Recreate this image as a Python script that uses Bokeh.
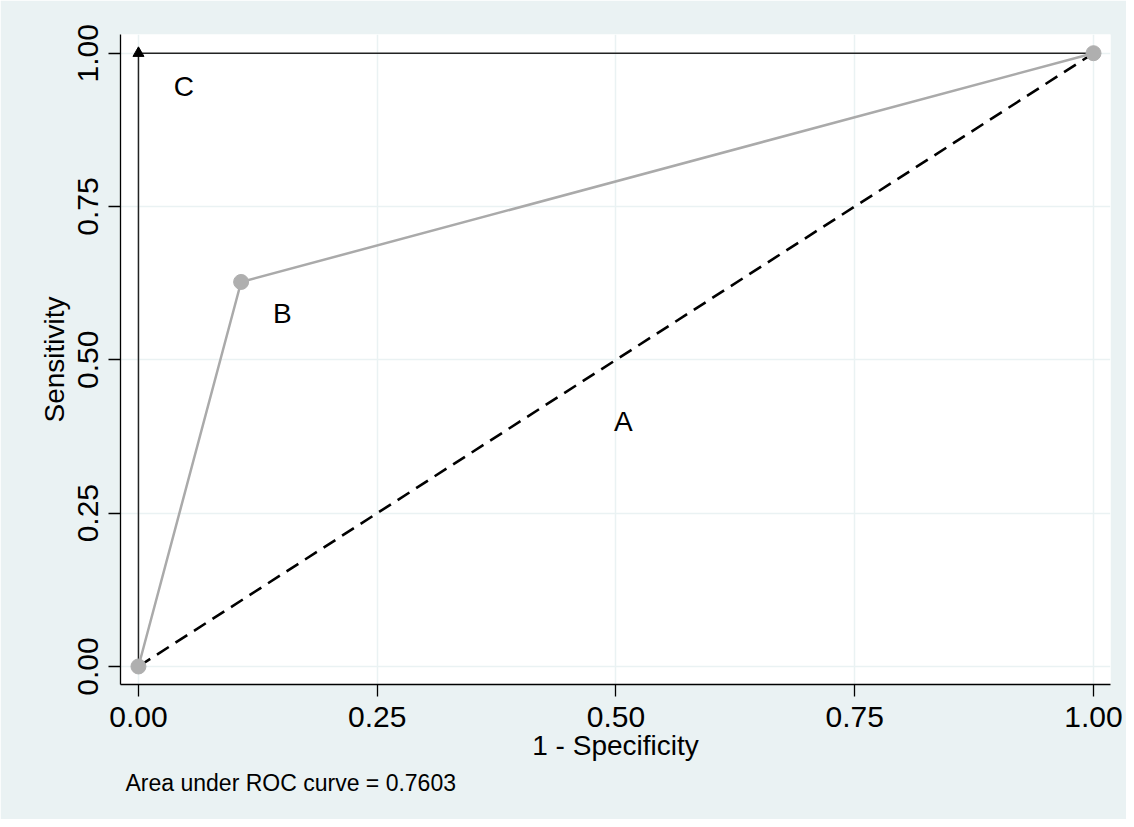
from bokeh.plotting import figure
from bokeh.models import Range1d, FixedTicker, Title
from bokeh.core.properties import value
from bokeh.embed import file_html
from bokeh.resources import INLINE

# Data
ref_x = [0.0, 1.0]          # A: reference (chance) line
ref_y = [0.0, 1.0]
b_x = [0.0, 0.1075, 1.0]    # B: ROC curve of the test
b_y = [0.0, 0.627, 1.0]
c_x = [0.0, 0.0, 1.0]       # C: perfect classifier
c_y = [0.0, 1.0, 1.0]
lab_text = ["A", "B", "C"]
lab_x = [0.498, 0.141, 0.037]
lab_y = [0.399, 0.575, 0.945]
ticks = [0.0, 0.25, 0.5, 0.75, 1.0]
tick_labels = ["0.00", "0.25", "0.50", "0.75", "1.00"]
note = "Area under ROC curve = 0.7603"

FONT = "Liberation Sans"
BG = "#EAF2F3"

p = figure(width=1126, height=819, output_backend="svg", toolbar_location=None,
           x_range=Range1d(-0.0188, 1.0178), y_range=Range1d(-0.0294, 1.0305),
           min_border_left=120, min_border_right=16, min_border_top=34,
           min_border_bottom=135)
p.background_fill_color = "white"
p.border_fill_color = BG
p.outline_line_color = None

for ax in (p.xaxis[0], p.yaxis[0]):
    ax.ticker = FixedTicker(ticks=ticks)
    ax.major_label_overrides = {t: s for t, s in zip(ticks, tick_labels)}
    ax.major_tick_out = 12
    ax.major_tick_in = 0
    ax.minor_tick_line_color = None
    ax.axis_line_color = "black"
    ax.axis_line_width = 1.3
    ax.major_tick_line_color = "black"
    ax.major_tick_line_width = 1.3
    ax.major_label_text_font = FONT
    ax.major_label_text_font_size = "30px"
    ax.major_label_text_color = "black"
    ax.axis_label_text_font = FONT
    ax.axis_label_text_font_size = "28px"
    ax.axis_label_text_font_style = "normal"
    ax.axis_label_text_color = "black"
    ax.major_label_standoff = 10

p.xaxis.axis_label = "1 - Specificity"
p.yaxis.axis_label = "Sensitivity"
p.xaxis.axis_label_standoff = 0
p.yaxis.axis_label_standoff = 6
p.yaxis.major_label_orientation = "vertical"

p.xgrid.ticker = FixedTicker(ticks=ticks)
p.ygrid.ticker = FixedTicker(ticks=ticks)
p.grid.grid_line_color = BG
p.grid.grid_line_width = 1.5

# C line
p.line(c_x, c_y, line_color="#222222", line_width=1.5)
p.scatter(c_x, c_y, marker="triangle", size=11, fill_color="black", line_color="black")
# A reference line
p.line(ref_x, ref_y, line_color="black", line_width=2.6, line_dash="14 8")
# B curve
p.line(b_x, b_y, line_color="#AAAAAA", line_width=2.5)
p.scatter(b_x, b_y, marker="circle", size=15, fill_color="#AFAFAF", line_color="#AFAFAF")

p.text(lab_x, lab_y, text=lab_text, text_font=value(FONT), text_font_size="28px",
       text_color="black", text_align="left", text_baseline="alphabetic")

p.add_layout(Title(text=note, align="left", offset=5, standoff=8,
                   text_font=FONT, text_font_size="23px", text_font_style="normal",
                   text_color="black"), "below")

open("out.html", "w").write(file_html(p, INLINE))
